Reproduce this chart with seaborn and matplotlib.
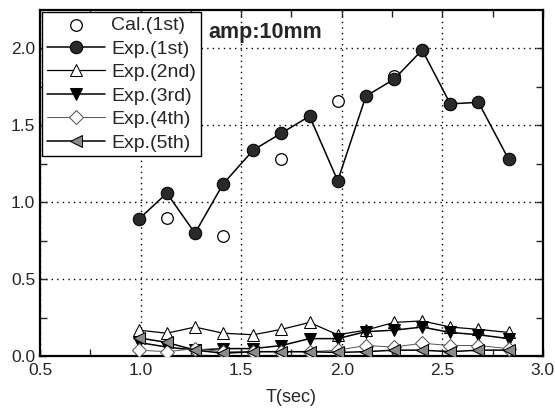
import numpy as np
import matplotlib
matplotlib.use("Agg")
import matplotlib.pyplot as plt
import seaborn as sns

# period values (sec)
t_exp = [0.99, 1.13, 1.27, 1.41, 1.56, 1.70, 1.84, 1.98, 2.12, 2.26, 2.40, 2.54, 2.68, 2.83]
t_cal = [1.13, 1.41, 1.70, 1.98, 2.26, 2.54]

cal_1st = [0.90, 0.78, 1.28, 1.66, 1.82, 1.64]
exp_1st = [0.89, 1.06, 0.80, 1.12, 1.34, 1.45, 1.56, 1.14, 1.69, 1.80, 1.99, 1.64, 1.65, 1.28]
exp_2nd = [0.17, 0.15, 0.19, 0.15, 0.14, 0.175, 0.22, 0.14, 0.17, 0.22, 0.23, 0.19, 0.175, 0.155]
exp_3rd = [0.09, 0.06, 0.04, 0.05, 0.05, 0.07, 0.115, 0.115, 0.16, 0.17, 0.19, 0.155, 0.14, 0.115]
exp_4th = [0.04, 0.03, 0.05, 0.03, 0.03, 0.03, 0.03, 0.04, 0.07, 0.06, 0.085, 0.07, 0.07, 0.05]
exp_5th = [0.12, 0.09, 0.04, 0.02, 0.03, 0.03, 0.03, 0.025, 0.03, 0.04, 0.04, 0.03, 0.04, 0.04]

sns.set_style("ticks")
plt.rcParams['font.family'] = ['Liberation Sans', 'DejaVu Sans']

fig = plt.figure(figsize=(5.55, 4.16), dpi=100)
ax = fig.add_axes([0.0724, 0.1435, 0.9056, 0.8325])

# calculated values
sns.scatterplot(x=t_cal, y=cal_1st, ax=ax, marker='o', s=70, facecolor='white',
                edgecolor='black', linewidth=0.9, label='Cal.(1st)', zorder=3)

sns.lineplot(x=t_exp, y=exp_1st, ax=ax, sort=False, color='black', lw=1.1,
             marker='o', markersize=9, markerfacecolor='#2a2a2a', markeredgecolor='black',
             label='Exp.(1st)', zorder=4)
sns.lineplot(x=t_exp, y=exp_2nd, ax=ax, sort=False, color='black', lw=0.9,
             marker='^', markersize=9, markerfacecolor='white', markeredgecolor='black',
             label='Exp.(2nd)', zorder=4)
sns.lineplot(x=t_exp, y=exp_3rd, ax=ax, sort=False, color='black', lw=1.1,
             marker='v', markersize=9, markerfacecolor='black', markeredgecolor='black',
             label='Exp.(3rd)', zorder=4)
sns.lineplot(x=t_exp, y=exp_4th, ax=ax, sort=False, color='#555555', lw=0.7,
             marker='D', markersize=7, markerfacecolor='white', markeredgecolor='#555555',
             label='Exp.(4th)', zorder=4)
sns.lineplot(x=t_exp, y=exp_5th, ax=ax, sort=False, color='black', lw=1.1,
             marker='<', markersize=9, markerfacecolor='#8a8a8a', markeredgecolor='black',
             label='Exp.(5th)', zorder=4)

ax.set_xlim(0.5, 3.0)
ax.set_ylim(0, 2.25)
ax.set_xticks([0.5, 1.0, 1.5, 2.0, 2.5, 3.0])
ax.set_yticks([0.0, 0.5, 1.0, 1.5, 2.0])
ax.set_xticks(np.arange(0.75, 3.0, 0.5), minor=True)
ax.set_yticks(np.arange(0.25, 2.25, 0.5), minor=True)
ax.tick_params(which='both', direction='in', top=True, right=True, labelsize=12.5,
               length=5, width=1)
ax.tick_params(axis='x', pad=5)
ax.grid(True, which='major', color='black', linestyle=(0, (1, 3)), linewidth=1)
for s in ax.spines.values():
    s.set_linewidth(1.6)
    s.set_color('black')

ax.set_xlabel("T(sec)", fontsize=13, labelpad=8)
ax.set_ylabel("")

ax.text(0.334, 0.935, "amp:10mm", transform=ax.transAxes, fontsize=15.5,
        fontweight='bold', ha='left', va='center')

leg = ax.legend(loc='upper left', fontsize=14, frameon=True, fancybox=False,
                edgecolor='black', labelspacing=0.3, handlelength=3.0,
                handletextpad=0.3, borderpad=0.25, borderaxespad=0.1)
leg.get_frame().set_linewidth(1.0)
leg.get_frame().set_alpha(1)

fig.savefig("out.png", dpi=100)
